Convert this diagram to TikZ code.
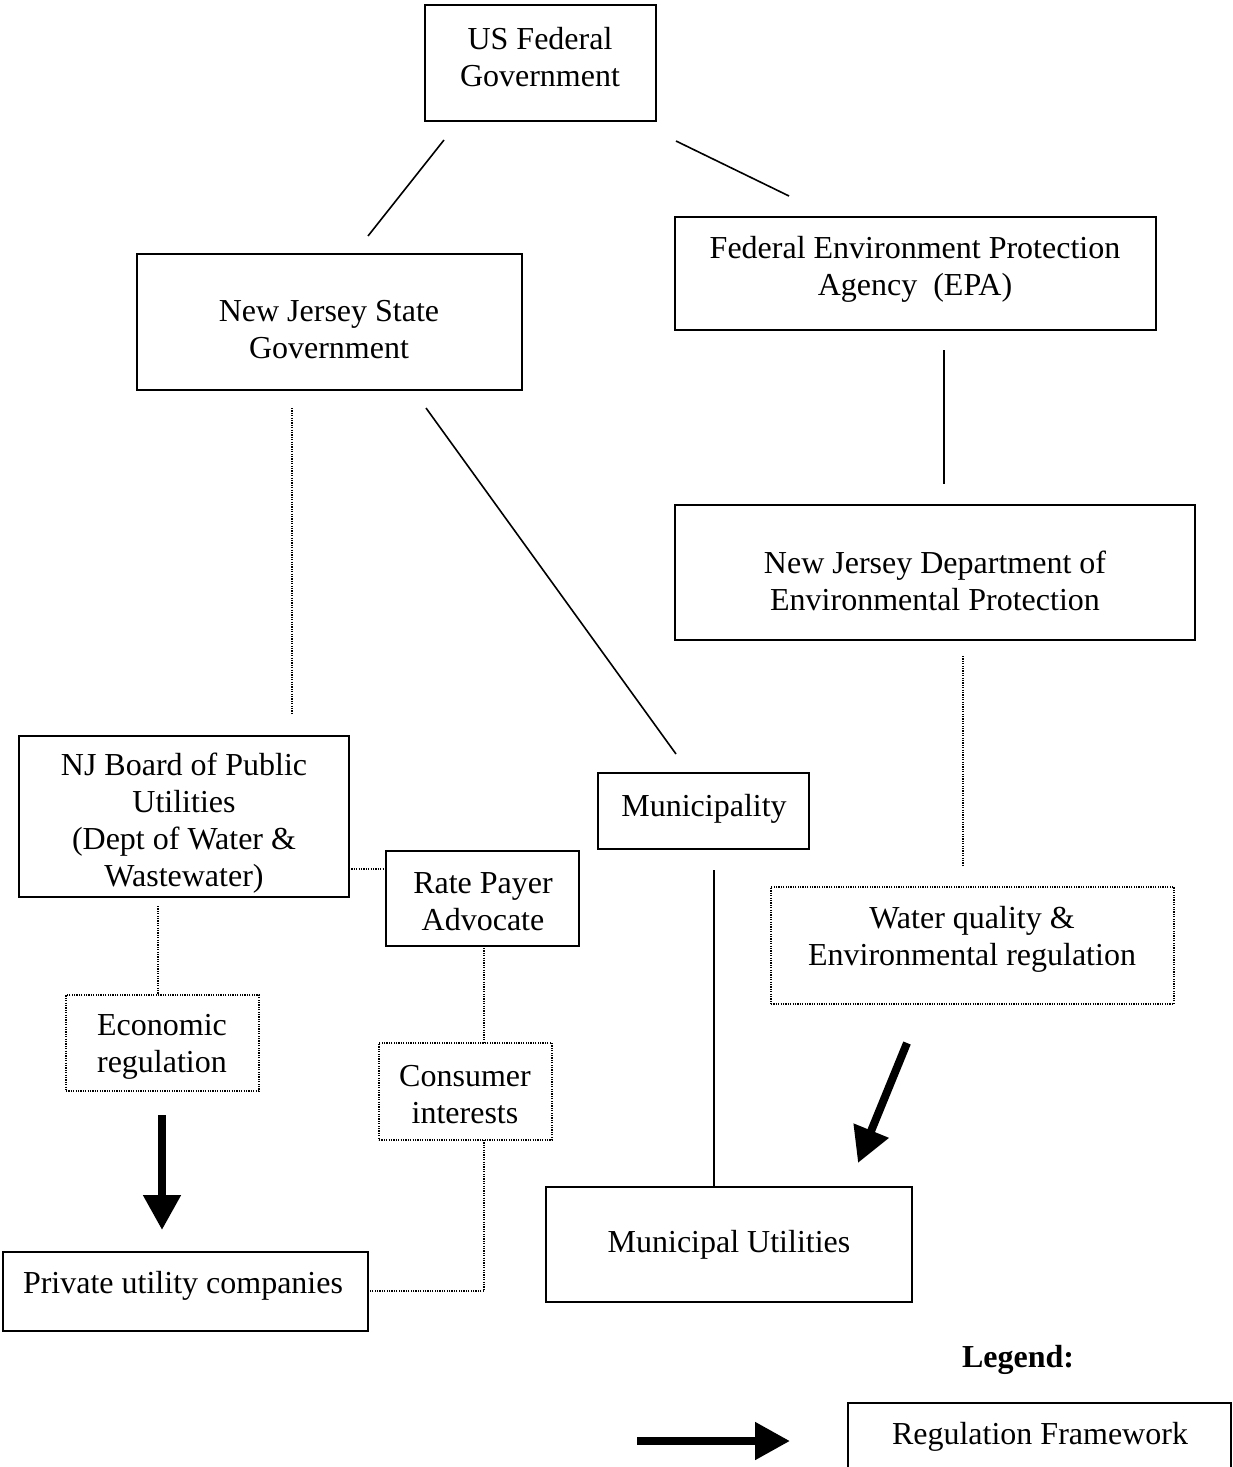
\documentclass[tikz,border=0pt]{standalone}
\usepackage{fontspec}
\setmainfont{Liberation Serif}
\usetikzlibrary{arrows.meta}
\begin{document}
\begin{tikzpicture}[x=0.5pt,y=-0.5pt,
  box/.style={draw, line width=1.1pt, inner sep=0pt},
  dotbox/.style={draw, line width=0.6pt, dash pattern=on 0.6pt off 0.6pt, inner sep=0pt},
  txt/.style={align=center, inner sep=0pt, yshift=-1.5pt, font=\fontsize{16}{18.5}\selectfont},
  link/.style={line width=0.8pt},
  dotlink/.style={line width=0.6pt, dash pattern=on 0.6pt off 0.6pt},
  bigarrow/.style={line width=4pt, -{Triangle[width=18pt,length=17.5pt]}}]
\useasboundingbox (0,0) rectangle (1232,1467);
% boxes
\node[box, minimum width=115.5pt, minimum height=58pt] (us) at (540.5,63) {};
\node[txt] at (540,54.5) {US Federal\\Government};
\node[box, minimum width=192.5pt, minimum height=68pt] (njs) at (329.5,322) {};
\node[txt] at (329,326.5) {New Jersey State\\Government};
\node[box, minimum width=240.5pt, minimum height=56.5pt] (epa) at (915.5,273.5) {};
\node[txt] at (915,266) {Federal Environment Protection\\Agency\ \ (EPA)};
\node[box, minimum width=260pt, minimum height=67.5pt] (dep) at (935,572.5) {};
\node[txt] at (935,577.5) {New Jersey Department of\\Environmental Protection};
\node[dotbox, minimum width=201.5pt, minimum height=58.5pt] (wq) at (972.5,945.5) {};
\node[txt] at (972,936) {Water quality \&\\Environmental regulation};
\node[box, minimum width=165pt, minimum height=80.5pt] (bpu) at (184,816.5) {};
\node[txt] at (184,820.5) {NJ Board of Public\\Utilities\\(Dept of Water \&\\Wastewater)};
\node[box, minimum width=105.5pt, minimum height=38pt] (mun) at (703.5,811) {};
\node[txt] at (704,806) {Municipality};
\node[box, minimum width=96.5pt, minimum height=47.5pt] (rpa) at (482.5,898.5) {};
\node[txt] at (483,899) {Rate Payer\\Advocate};
\node[dotbox, minimum width=96.5pt, minimum height=48pt] (eco) at (162.5,1043) {};
\node[txt] at (162,1043.5) {Economic\\regulation};
\node[dotbox, minimum width=86.5pt, minimum height=48.5pt] (con) at (465.5,1091.5) {};
\node[txt] at (465,1092) {Consumer\\interests};
\node[box, minimum width=182.5pt, minimum height=39.5pt] (puc) at (185.5,1291.5) {};
\node[txt] at (183,1283) {Private utility companies};
\node[box, minimum width=183pt, minimum height=57.5pt] (mu) at (729,1244.5) {};
\node[txt] at (729,1242) {Municipal Utilities};
\node[txt, font=\fontsize{16}{18.5}\selectfont\bfseries] (legend) at (1018,1357) {Legend:};
\node[box, minimum width=191.5pt, minimum height=48.5pt] (rf) at (1039.5,1451.5) {};
\node[txt] at (1040,1434) {Regulation Framework};
% connector end points
\coordinate (a1) at (444,140); \coordinate (a2) at (368,236);
\coordinate (b1) at (676,141); \coordinate (b2) at (789,196);
\coordinate (c1) at (944,350); \coordinate (c2) at (944,484);
\coordinate (d1) at (963,656); \coordinate (d2) at (963,866);
\coordinate (e1) at (292,408); \coordinate (e2) at (292,714);
\coordinate (f1) at (426,408); \coordinate (f2) at (676,754);
\coordinate (g1) at (349,869); \coordinate (g2) at (386,869);
\coordinate (h1) at (714,870);
\coordinate (i1) at (158,906);
\coordinate (j1) at (484,948);
\coordinate (k1) at (484,1140); \coordinate (k2) at (484,1291); \coordinate (k3) at (370,1291);
\coordinate (m1) at (162,1115); \coordinate (m2) at (162,1230);
\coordinate (n1) at (907,1043); \coordinate (n2) at (858,1163);
\coordinate (p1) at (637,1441); \coordinate (p2) at (790,1441);
% connectors
\draw[link] (a1) -- (a2);
\draw[link] (b1) -- (b2);
\draw[link] (c1) -- (c2);
\draw[dotlink] (d1) -- (d2);
\draw[dotlink] (e1) -- (e2);
\draw[link] (f1) -- (f2);
\draw[dotlink] (g1) -- (g2);
\draw[link] (h1) -- (h1 |- mu.north);
\draw[dotlink] (i1) -- (i1 |- eco.north);
\draw[dotlink] (j1) -- (j1 |- con.north);
\draw[dotlink] (k1) -- (k2) -- (k3);
\draw[bigarrow] (m1) -- (m2);
\draw[bigarrow] (n1) -- (n2);
\draw[bigarrow] (p1) -- (p2);
\end{tikzpicture}
\end{document}
